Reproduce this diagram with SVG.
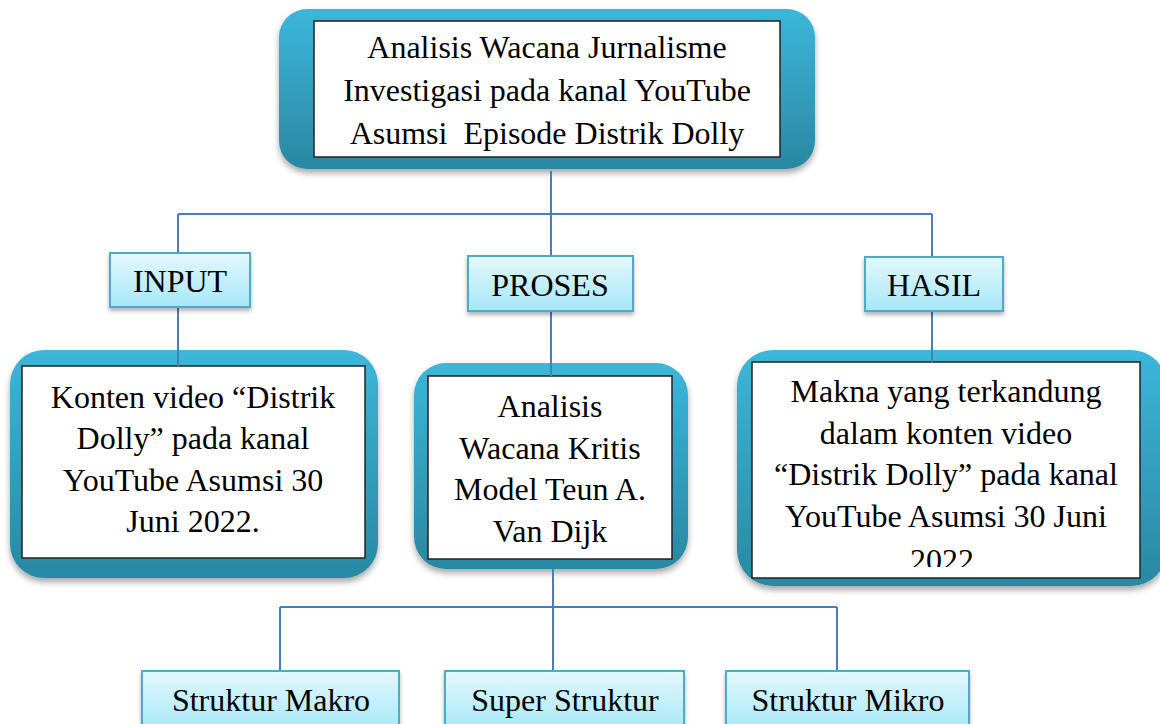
<svg xmlns="http://www.w3.org/2000/svg" width="1160" height="724" viewBox="0 0 1160 724">
<style>
.t{font-family:"Liberation Serif","Times New Roman",serif;font-size:32px;fill:#000;text-anchor:middle}
.o{fill:url(#og);filter:url(#sh)}
.i{fill:#fff;stroke:#222;stroke-width:1.5}
.b{fill:url(#bg);stroke:#4bacc6;stroke-width:2;filter:url(#sh2)}
.c{fill:none;stroke:#4a7ebb;stroke-width:2}
</style>
<defs>
<linearGradient id="og" x1="0" y1="0" x2="0" y2="1"><stop offset="0" stop-color="#3cb6da"/><stop offset="1" stop-color="#2a88a2"/></linearGradient>
<linearGradient id="bg" x1="0" y1="0" x2="0" y2="1"><stop offset="0" stop-color="#e4f8fd"/><stop offset="1" stop-color="#a6e7f8"/></linearGradient>
<filter id="sh" x="-10%" y="-10%" width="120%" height="130%"><feDropShadow dx="0" dy="4" stdDeviation="3" flood-color="#000" flood-opacity="0.35"/></filter>
<filter id="sh2" x="-10%" y="-10%" width="120%" height="130%"><feDropShadow dx="0" dy="3" stdDeviation="2" flood-color="#000" flood-opacity="0.3"/></filter>
</defs>
<g id="top">
<rect class="o" x="279" y="9" width="536" height="160" rx="28"/>
<rect class="i" x="314" y="21" width="466" height="136"/>
<text class="t" x="547" y="58">Analisis Wacana Jurnalisme</text>
<text class="t" x="547" y="101">Investigasi pada kanal YouTube</text>
<text class="t" x="547" y="144" xml:space="preserve">Asumsi  Episode Distrik Dolly</text>
</g>
<g id="konten">
<rect class="o" x="10" y="350" width="368" height="228" rx="34"/>
<rect class="i" x="22" y="366" width="343" height="192"/>
<text class="t" x="193" y="408">Konten video “Distrik</text>
<text class="t" x="193" y="449">Dolly” pada kanal</text>
<text class="t" x="193" y="491">YouTube Asumsi 30</text>
<text class="t" x="193" y="532">Juni 2022.</text>
</g>
<g id="analisis">
<rect class="o" x="414" y="363" width="274" height="206" rx="32"/>
<rect class="i" x="428" y="376" width="244" height="183"/>
<text class="t" x="550" y="417">Analisis</text>
<text class="t" x="550" y="459">Wacana Kritis</text>
<text class="t" x="550" y="500">Model Teun A.</text>
<text class="t" x="550" y="542">Van Dijk</text>
</g>
<g id="makna">
<rect class="o" x="737" y="350" width="430" height="236" rx="36"/>
<rect class="i" x="752" y="362" width="388" height="216"/>
<svg x="752" y="362" width="388" height="205" overflow="hidden">
<text class="t" x="194" y="40">Makna yang terkandung</text>
<text class="t" x="194" y="82">dalam konten video</text>
<text class="t" x="194" y="123">“Distrik Dolly” pada kanal</text>
<text class="t" x="194" y="165">YouTube Asumsi 30 Juni</text>
<text class="t" x="194" y="209">2022.</text>
</svg>
</g>
<g id="connectors">
<path class="c" d="M551 171V255M178 214H932M178 214V253M932 214V257M178 307V366M932 311V362M551 311V376M553 569V671M280 607H837M280 607V671M837 607V671"/>
</g>
<g id="input">
<rect class="b" x="110" y="253" width="140" height="54"/>
<text class="t" x="180" y="292">INPUT</text>
</g>
<g id="proses">
<rect class="b" x="468" y="256" width="165" height="55"/>
<text class="t" x="550" y="296">PROSES</text>
</g>
<g id="hasil">
<rect class="b" x="865" y="257" width="138" height="54"/>
<text class="t" x="934" y="296">HASIL</text>
</g>
<g id="makro">
<rect class="b" x="142" y="671" width="257" height="60"/>
<text class="t" x="271" y="711">Struktur Makro</text>
</g>
<g id="super">
<rect class="b" x="445" y="671" width="239" height="60"/>
<text class="t" x="565" y="711">Super Struktur</text>
</g>
<g id="mikro">
<rect class="b" x="726" y="671" width="243" height="60"/>
<text class="t" x="848" y="711">Struktur Mikro</text>
</g>
</svg>
